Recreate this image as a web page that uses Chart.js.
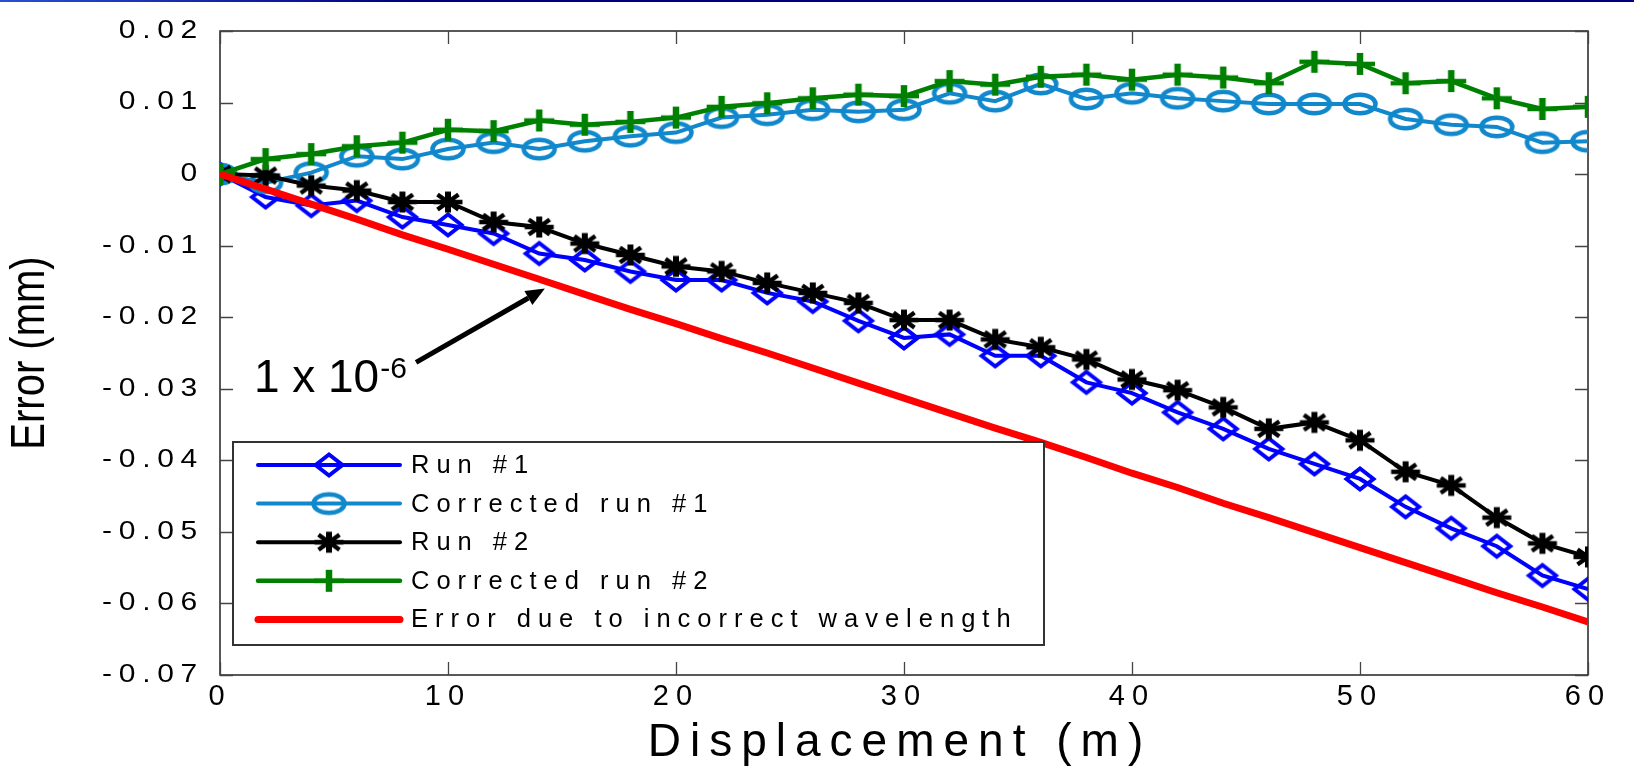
<!DOCTYPE html>
<html>
<head>
<meta charset="utf-8">
<script src="https://cdn.jsdelivr.net/npm/chart.js@4.4.1/dist/chart.umd.min.js"></script>
<style>
  html, body { margin: 0; padding: 0; background: #fff; }
  #wrap { position: relative; width: 1634px; height: 766px; }
  #topline { position: absolute; left: 0; top: 0; width: 1634px; height: 2px;
             background: linear-gradient(to right, #2a4fd0, #000080 25%); }
</style>
</head>
<body>
<div id="wrap">
  <canvas id="myChart" width="1634" height="766"></canvas>
  <div id="topline"></div>
</div>
<script>
// displacement (m)
var xValues = [0, 2, 4, 6, 8, 10, 12, 14, 16, 18, 20, 22, 24, 26, 28, 30,
               32, 34, 36, 38, 40, 42, 44, 46, 48, 50, 52, 54, 56, 58, 60];

// error (mm)
var run1 = [0, -0.0032, -0.0044, -0.0037, -0.0060, -0.0071, -0.0083, -0.0111, -0.0120, -0.0136,
            -0.0148, -0.0148, -0.0166, -0.0178, -0.0205, -0.0229, -0.0224, -0.0254, -0.0254, -0.0291,
            -0.0306, -0.0333, -0.0356, -0.0384, -0.0405, -0.0426, -0.0465, -0.0495, -0.0520, -0.0561, -0.0580];
var corrRun1 = [0, -0.0012, 0.0002, 0.0025, 0.0021, 0.0035, 0.0044, 0.0035, 0.0046, 0.0053,
                0.0058, 0.0079, 0.0083, 0.0090, 0.0087, 0.0090, 0.0113, 0.0102, 0.0126, 0.0105,
                0.0113, 0.0106, 0.0102, 0.0098, 0.0098, 0.0098, 0.0077, 0.0069, 0.0066, 0.0044, 0.0046];
var run2 = [0, -0.0002, -0.0016, -0.0023, -0.0039, -0.0039, -0.0067, -0.0074, -0.0097, -0.0113,
            -0.0129, -0.0136, -0.0152, -0.0166, -0.0180, -0.0204, -0.0204, -0.0231, -0.0242, -0.0259,
            -0.0287, -0.0302, -0.0326, -0.0356, -0.0347, -0.0372, -0.0416, -0.0435, -0.0480, -0.0516, -0.0535];
var corrRun2 = [0, 0.0021, 0.0028, 0.0039, 0.0044, 0.0062, 0.0060, 0.0075, 0.0069, 0.0073,
                0.0079, 0.0094, 0.0099, 0.0106, 0.0111, 0.0109, 0.0130, 0.0125, 0.0136, 0.0139,
                0.0132, 0.0139, 0.0135, 0.0127, 0.0157, 0.0154, 0.0127, 0.0130, 0.0106, 0.0091, 0.0094];
var wavelengthErr = [0, -0.0021, -0.0042, -0.0063, -0.0085, -0.0105, -0.0126, -0.0147, -0.0168, -0.0189,
                     -0.0209, -0.0230, -0.0250, -0.0271, -0.0292, -0.0313, -0.0334, -0.0355, -0.0375, -0.0396,
                     -0.0418, -0.0438, -0.0460, -0.0480, -0.0501, -0.0522, -0.0543, -0.0564, -0.0585, -0.0605, -0.0626];

var seriesLabels = ["Run #1", "Corrected run #1", "Run #2", "Corrected run #2",
                    "Error due to incorrect wavelength"];

var xTicks = [0, 10, 20, 30, 40, 50, 60];
var xTickLabels = ["0", "10", "20", "30", "40", "50", "60"];
var yTicks = [-0.07, -0.06, -0.05, -0.04, -0.03, -0.02, -0.01, 0, 0.01, 0.02];
var yTickLabels = ["-0.07", "-0.06", "-0.05", "-0.04", "-0.03", "-0.02", "-0.01", "0", "0.01", "0.02"];

var FONT = '"Liberation Sans", Arial, sans-serif';

// marker images (the original figure is stretched sideways, so markers are wider than tall)
function makeMarker(w, h, draw) {
  var c = document.createElement("canvas");
  c.width = w;
  c.height = h;
  var g = c.getContext("2d");
  g.translate(w / 2, h / 2);
  draw(g);
  return c;
}

var diamondMark = makeMarker(36, 30, function (g) {
  g.strokeStyle = "#0000ff";
  g.lineWidth = 4;
  g.beginPath();
  g.moveTo(-13.5, 0); g.lineTo(0, -10.5); g.lineTo(13.5, 0); g.lineTo(0, 10.5);
  g.closePath();
  g.stroke();
});
var circleMark = makeMarker(40, 28, function (g) {
  g.strokeStyle = "#1188cc";
  g.lineWidth = 4.5;
  g.beginPath();
  g.ellipse(0, 0, 15.5, 9.3, 0, 0, Math.PI * 2);
  g.stroke();
});
var starMark = makeMarker(34, 26, function (g) {
  g.strokeStyle = "#000";
  g.lineWidth = 4.5;
  g.beginPath();
  g.moveTo(-14.5, 0); g.lineTo(14.5, 0);
  g.moveTo(-10.5, -7.5); g.lineTo(10.5, 7.5);
  g.moveTo(-10.5, 7.5); g.lineTo(10.5, -7.5);
  g.stroke();
  g.lineWidth = 6;
  g.beginPath();
  g.moveTo(0, -10.5); g.lineTo(0, 10.5);
  g.stroke();
});
var plusMark = makeMarker(34, 26, function (g) {
  g.strokeStyle = "#008000";
  g.lineWidth = 4.5;
  g.beginPath();
  g.moveTo(-15, 0); g.lineTo(15, 0);
  g.stroke();
  g.lineWidth = 6.5;
  g.beginPath();
  g.moveTo(0, -11); g.lineTo(0, 11);
  g.stroke();
});

function points(ys) {
  return xValues.map(function (x, i) { return { x: x, y: ys[i] }; });
}

// "1 x 10^-6" note and its arrow, in data units
var noteAt = { x: 1.53, y: -0.0304 };
var arrowFrom = { x: 8.6, y: -0.0263 };
var arrowTo = { x: 14.25, y: -0.0160 };

var figurePlugin = {
  id: "figurePlugin",
  beforeDraw: function (chart) {
    chart.ctx.letterSpacing = "7px";
    // y tick labels are widened in the source figure
    var ys = chart.scales.y;
    if (ys && !ys._widened) {
      var orig = ys.drawLabels;
      ys.drawLabels = function (area) {
        var ctx = this.ctx;
        var x0 = this.right - this.options.ticks.padding;
        ctx.save();
        ctx.translate(x0, 0);
        ctx.scale(1.2, 1);
        ctx.translate(-x0, 0);
        ctx.letterSpacing = "5.6px";
        orig.call(this, area);
        ctx.restore();
      };
      ys._widened = true;
    }
  },
  beforeDatasetsDraw: function (chart) {
    var ctx = chart.ctx;
    var a = chart.chartArea;
    var xs = chart.scales.x, ys = chart.scales.y;
    ctx.save();
    ctx.strokeStyle = "#222";
    ctx.lineWidth = 1.5;
    ctx.strokeRect(a.left, a.top, a.right - a.left, a.bottom - a.top);
    ctx.strokeStyle = "#444";
    ctx.lineWidth = 1.3;
    ctx.beginPath();
    yTicks.forEach(function (v) {
      var py = Math.round(ys.getPixelForValue(v)) + 0.5;
      ctx.moveTo(a.left, py); ctx.lineTo(a.left + 13, py);
      ctx.moveTo(a.right, py); ctx.lineTo(a.right - 13, py);
    });
    xTicks.forEach(function (v) {
      var px = Math.round(xs.getPixelForValue(v)) + 0.5;
      ctx.moveTo(px, a.top); ctx.lineTo(px, a.top + 13);
      ctx.moveTo(px, a.bottom); ctx.lineTo(px, a.bottom - 13);
    });
    ctx.stroke();
    ctx.restore();
  },
  afterDatasetsDraw: function (chart) {
    var ctx = chart.ctx;
    var a = chart.chartArea;
    var xs = chart.scales.x, ys = chart.scales.y;

    // legend box
    var lx = a.left + 13, ly = 442, lw = 811, lh = 203;
    ctx.save();
    ctx.fillStyle = "#fff";
    ctx.fillRect(lx, ly, lw, lh);
    ctx.strokeStyle = "#333";
    ctx.lineWidth = 2;
    ctx.strokeRect(lx, ly, lw, lh);
    ctx.font = "25.5px " + FONT;
    ctx.letterSpacing = "7px";
    ctx.textBaseline = "middle";
    ctx.textAlign = "left";
    chart.data.datasets.forEach(function (ds, i) {
      var ry = ly + 23 + i * 38.6;
      ctx.strokeStyle = ds.borderColor;
      ctx.lineWidth = ds.borderWidth;
      ctx.lineCap = "round";
      ctx.beginPath();
      ctx.moveTo(lx + 25, ry);
      ctx.lineTo(lx + 167, ry);
      ctx.stroke();
      if (ds.pointStyle && ds.pointRadius > 0) {
        ctx.drawImage(ds.pointStyle, lx + 96 - ds.pointStyle.width / 2, ry - ds.pointStyle.height / 2);
      }
      ctx.fillStyle = "#000";
      ctx.fillText(ds.label, lx + 178, ry + 1);
    });
    ctx.restore();

    // note and arrow
    ctx.save();
    ctx.fillStyle = "#000";
    ctx.letterSpacing = "0px";
    ctx.textBaseline = "alphabetic";
    ctx.textAlign = "left";
    var nx = xs.getPixelForValue(noteAt.x), ny = ys.getPixelForValue(noteAt.y);
    ctx.font = "46px " + FONT;
    ctx.fillText("1 x 10", nx - 1, ny);
    var w = ctx.measureText("1 x 10").width;
    ctx.font = "30px " + FONT;
    ctx.fillText("-6", nx + w, ny - 14);

    var x0 = xs.getPixelForValue(arrowFrom.x), y0 = ys.getPixelForValue(arrowFrom.y);
    var x1 = xs.getPixelForValue(arrowTo.x), y1 = ys.getPixelForValue(arrowTo.y);
    var ang = Math.atan2(y1 - y0, x1 - x0);
    var hl = 19, hw = 8;
    var bx = x1 - hl * Math.cos(ang), by = y1 - hl * Math.sin(ang);
    ctx.strokeStyle = "#000";
    ctx.lineWidth = 5;
    ctx.beginPath();
    ctx.moveTo(x0, y0);
    ctx.lineTo(bx, by);
    ctx.stroke();
    ctx.beginPath();
    ctx.moveTo(x1, y1);
    ctx.lineTo(bx + hw * Math.sin(ang), by - hw * Math.cos(ang));
    ctx.lineTo(bx - hw * Math.sin(ang), by + hw * Math.cos(ang));
    ctx.closePath();
    ctx.fill();
    ctx.restore();
  },
  afterDraw: function (chart) {
    var ctx = chart.ctx;
    var a = chart.chartArea;
    ctx.save();
    ctx.fillStyle = "#000";
    ctx.textAlign = "center";
    ctx.textBaseline = "middle";
    // y title, widened like the rest of the stretched figure
    ctx.letterSpacing = "0px";
    ctx.font = "40px " + FONT;
    ctx.translate(31, (a.top + a.bottom) / 2);
    ctx.scale(1.2, 1);
    ctx.rotate(-Math.PI / 2);
    ctx.fillText("Error (mm)", 0, 0);
    ctx.restore();
    // x title
    ctx.save();
    ctx.fillStyle = "#000";
    ctx.textAlign = "center";
    ctx.textBaseline = "middle";
    ctx.letterSpacing = "9px";
    ctx.font = "46px " + FONT;
    ctx.fillText("Displacement (m)", 900, 743);
    ctx.restore();
  }
};

var myChart = new Chart("myChart", {
  type: "line",
  data: {
    datasets: [
      {
        label: seriesLabels[0],
        data: points(run1),
        borderColor: "#0000ff",
        borderWidth: 4,
        pointStyle: diamondMark,
        pointRadius: 12,
        order: 5,
      },
      {
        label: seriesLabels[1],
        data: points(corrRun1),
        borderColor: "#1188cc",
        borderWidth: 4,
        pointStyle: circleMark,
        pointRadius: 12,
        order: 4,
      },
      {
        label: seriesLabels[2],
        data: points(run2),
        borderColor: "#000000",
        borderWidth: 4,
        pointStyle: starMark,
        pointRadius: 12,
        order: 3,
      },
      {
        label: seriesLabels[3],
        data: points(corrRun2),
        borderColor: "#008000",
        borderWidth: 4.5,
        pointStyle: plusMark,
        pointRadius: 12,
        order: 2,
      },
      {
        label: seriesLabels[4],
        data: points(wavelengthErr),
        borderColor: "#ff0000",
        borderWidth: 7,
        pointRadius: 0,
        order: 1,
      },
    ],
  },
  options: {
    responsive: false,
    animation: false,
    layout: { padding: { left: 0, top: 23, right: 46, bottom: 0 } },
    elements: { line: { tension: 0, fill: false } },
    plugins: {
      legend: { display: false },
      tooltip: { enabled: false },
    },
    scales: {
      x: {
        type: "linear",
        min: 0,
        max: 60,
        grid: { display: false, drawTicks: false },
        border: { display: false },
        afterBuildTicks: function (scale) {
          scale.ticks = xTicks.map(function (v) { return { value: v }; });
        },
        afterFit: function (scale) { scale.height = 91; },
        ticks: {
          padding: 5,
          maxRotation: 0,
          color: "#000",
          font: { family: FONT, size: 29 },
          callback: function (v, i) { return xTickLabels[i]; },
        },
      },
      y: {
        type: "linear",
        min: -0.07,
        max: 0.02,
        grid: { display: false, drawTicks: false },
        border: { display: false },
        afterBuildTicks: function (scale) {
          scale.ticks = yTicks.map(function (v) { return { value: v }; });
        },
        afterFit: function (scale) { scale.width = 220; },
        ticks: {
          padding: 16,
          color: "#000",
          font: { family: FONT, size: 25 },
          callback: function (v, i) { return yTickLabels[i]; },
        },
      },
    },
  },
  plugins: [figurePlugin],
});
</script>
</body>
</html>
